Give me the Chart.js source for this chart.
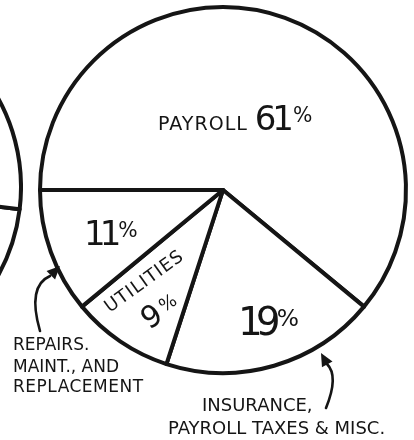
<!DOCTYPE html>
<html>
<head>
<meta charset="utf-8">
<script src="https://cdn.jsdelivr.net/npm/chart.js@4.4.1/dist/chart.umd.min.js"></script>
<style>
    html, body { margin: 0; padding: 0; background: #fff; }
    #wrap { position: relative; width: 414px; height: 440px; overflow: hidden;
            font-family: "DejaVu Sans", sans-serif; color: #151515; }
    #wrap canvas { position: absolute; }
    .lbl { position: absolute; white-space: nowrap; line-height: 1; }
    .small { font-size: 0.56em; letter-spacing: 1px; }
    .pct { font-size: 0.6em; vertical-align: 0.4em; letter-spacing: 0; margin-left: 3px; }
</style>
</head>
<body>
<div id="wrap">
    <canvas id="edge" width="370" height="370" style="left:-347px; top:2px"></canvas>
    <canvas id="pie" width="414" height="440" style="left:0; top:0"></canvas>
</div>
<script>
// Pie data
const categories = ['Payroll', 'Insurance, payroll taxes & misc.', 'Utilities', 'Repairs, maint., and replacement'];
const shares = [61, 19, 9, 11];
// Neighbouring pie on the left, only its edge is in the picture
const edgeShares = [50, 50];

const INK = '#151515';

// Label layout: x, baseline y, font size, rotation
const labelLayout = [
    { html: '<span class="small">PAYROLL</span> ' + shares[0] + '<span class="pct">%</span>', x: 158, y: 130, size: 34, ls: -4 },
    { html: shares[3] + '<span class="pct">%</span>', x: 84, y: 245, size: 34, ls: -6 },
    { html: 'UTILITIES', x: 110, y: 313, size: 18, rot: -36, ls: 1 },
    { html: shares[2] + '<span class="pct">%</span>', x: 149, y: 330, size: 30, rot: -32 },
    { html: shares[1] + '<span class="pct">%</span>', x: 238, y: 335, size: 39, ls: -7 },
    { html: 'REPAIRS.', x: 13, y: 350, size: 17 },
    { html: 'MAINT., AND', x: 13, y: 372, size: 17 },
    { html: 'REPLACEMENT', x: 13, y: 392, size: 17, ls: 0.5 },
    { html: 'INSURANCE,', x: 202, y: 411, size: 18 },
    { html: 'PAYROLL TAXES &amp; MISC.', x: 168, y: 434, size: 18 }
];

// Pointer arrows: start, control, end of shaft, then tip of the head
const arrows = [
    { from: [40, 331], ctrl: [27, 286], to: [50, 276], tip: [60, 266] },
    { from: [326, 408], ctrl: [339, 376], to: [327, 364], tip: [321, 353] }
];

const wrap = document.getElementById('wrap');
labelLayout.forEach(function(l) {
    const div = document.createElement('div');
    div.className = 'lbl';
    div.innerHTML = l.html;
    div.style.fontSize = l.size + 'px';
    div.style.left = l.x + 'px';
    div.style.top = (l.y - 0.846 * l.size) + 'px';
    if (l.ls) div.style.letterSpacing = l.ls + 'px';
    if (l.rot) {
        div.style.transformOrigin = '0px ' + (0.846 * l.size) + 'px';
        div.style.transform = 'rotate(' + l.rot + 'deg)';
    }
    wrap.appendChild(div);
});

const arrowPlugin = {
    id: 'arrows',
    afterDraw: function(chart) {
        const ctx = chart.ctx;
        ctx.save();
        ctx.strokeStyle = INK;
        ctx.fillStyle = INK;
        ctx.lineWidth = 2.6;
        ctx.lineCap = 'round';
        arrows.forEach(function(a) {
            ctx.beginPath();
            ctx.moveTo(a.from[0], a.from[1]);
            ctx.quadraticCurveTo(a.ctrl[0], a.ctrl[1], a.to[0], a.to[1]);
            ctx.stroke();
            // head
            const dx = a.tip[0] - a.to[0], dy = a.tip[1] - a.to[1];
            const len = Math.hypot(dx, dy);
            const ux = dx / len, uy = dy / len;
            const bx = a.tip[0] - ux * 13, by = a.tip[1] - uy * 13;
            ctx.beginPath();
            ctx.moveTo(a.tip[0], a.tip[1]);
            ctx.lineTo(bx - uy * 6, by + ux * 6);
            ctx.lineTo(bx + uy * 6, by - ux * 6);
            ctx.closePath();
            ctx.fill();
        });
        ctx.restore();
    }
};

const commonOptions = {
    responsive: false,
    animation: false,
    events: [],
    plugins: { legend: { display: false }, tooltip: { enabled: false } }
};

new Chart(document.getElementById('edge'), {
    type: 'pie',
    data: {
        datasets: [{ data: edgeShares, backgroundColor: '#fff', borderColor: INK, borderWidth: 4, borderJoinStyle: 'round' }]
    },
    options: Object.assign({}, commonOptions, { rotation: 97 })
});

new Chart(document.getElementById('pie'), {
    type: 'pie',
    data: {
        labels: categories,
        datasets: [{
            data: shares,
            backgroundColor: '#fff',
            borderColor: INK,
            borderWidth: 4,
            borderJoinStyle: 'round'
        }]
    },
    options: Object.assign({}, commonOptions, {
        rotation: -90,
        layout: { padding: { left: 38, right: 6, top: 5, bottom: 65 } }
    }),
    plugins: [arrowPlugin]
});
</script>
</body>
</html>
